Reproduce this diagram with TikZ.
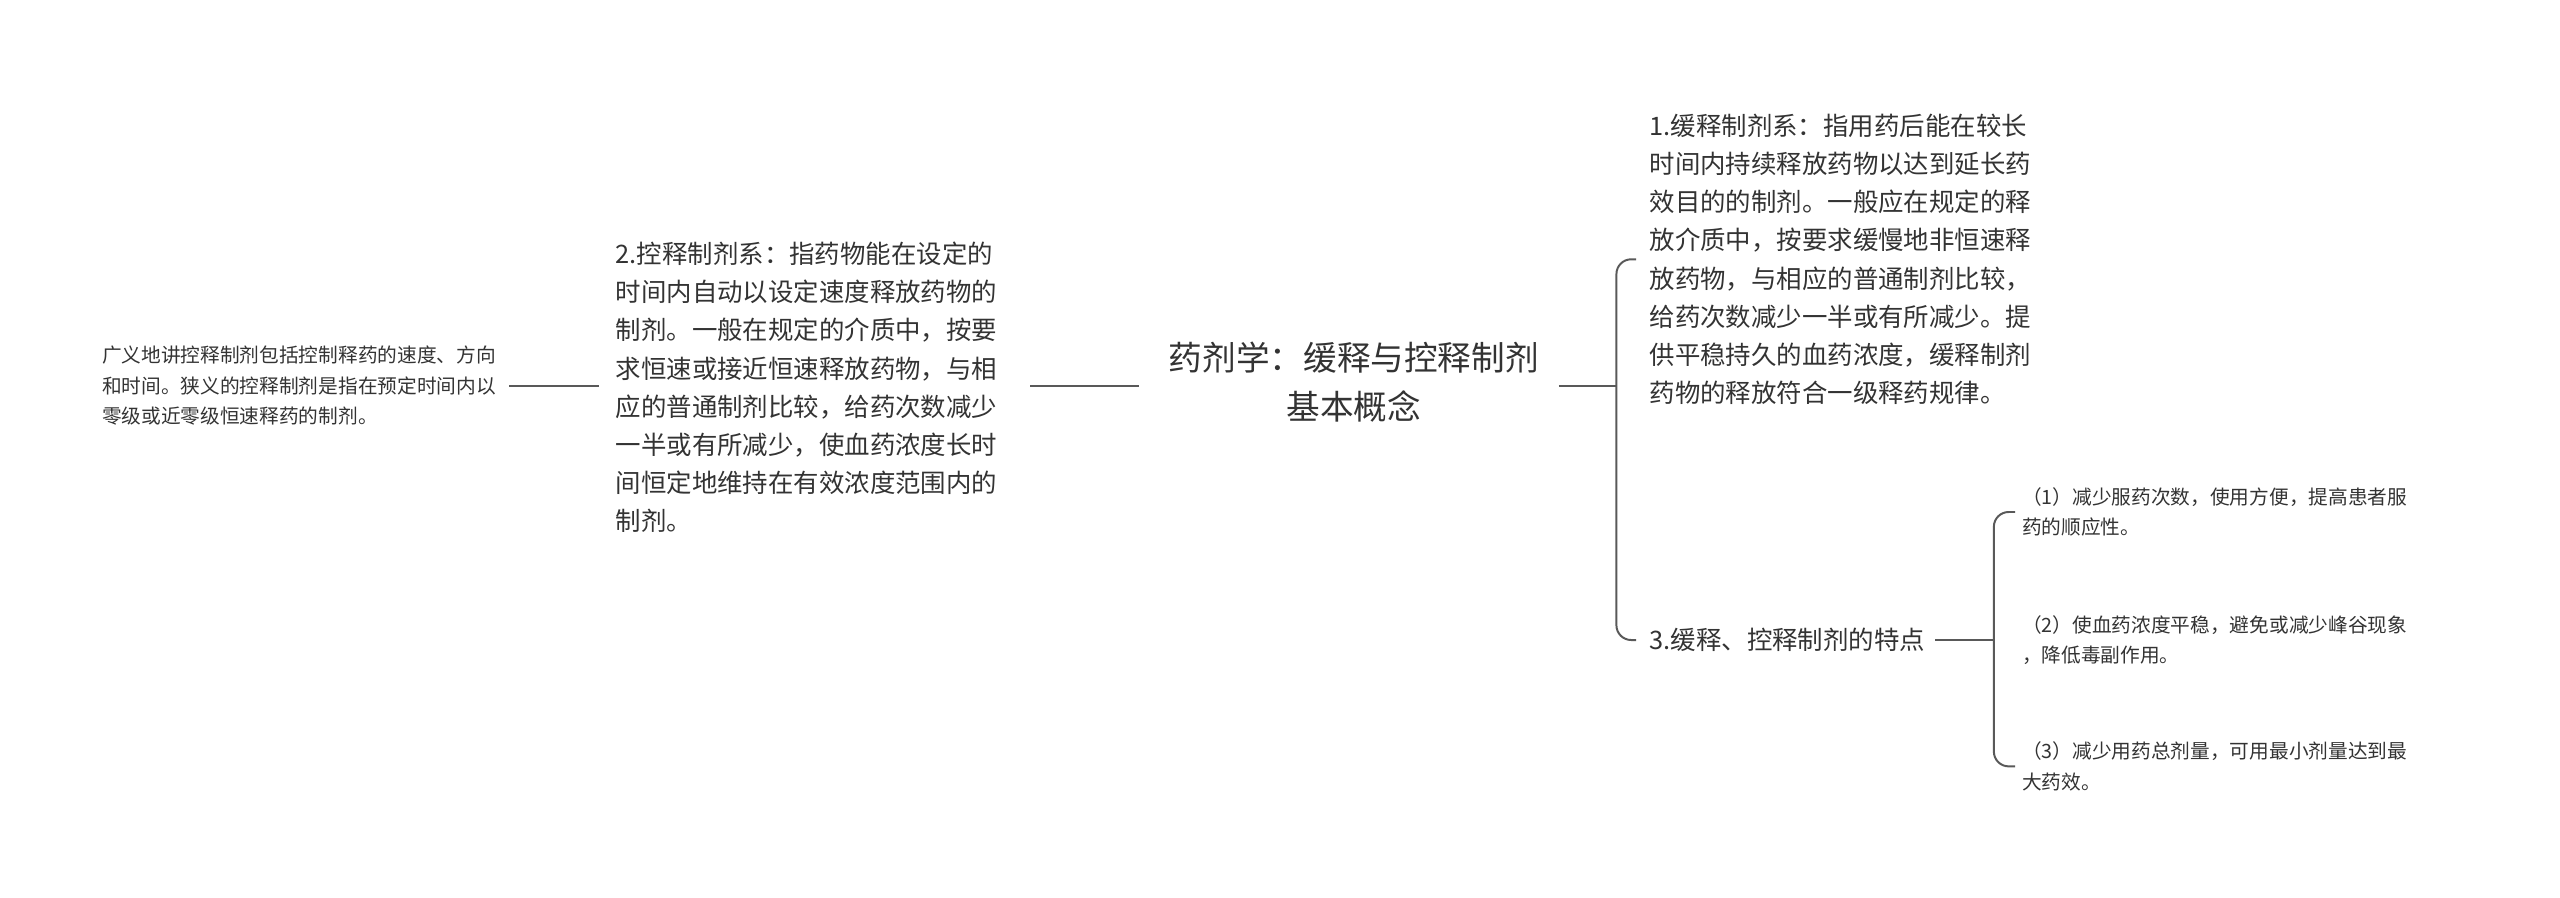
\documentclass[tikz,border=0pt]{standalone}
\usepackage{fontspec}
\setmainfont{Noto Sans CJK SC}
\begin{document}
\begin{tikzpicture}[x=1pt,y=-1pt,
  txt/.style={inner sep=0pt,align=left,text=black!80,anchor=west},
  big/.style={txt,font=\fontsize{15.5}{23.2}\selectfont},
  small/.style={txt,font=\fontsize{12}{18.6}\selectfont},
  ln/.style={draw=black!65,line width=1.2pt,rounded corners=9pt}]
\useasboundingbox (0,0) rectangle (1560,547);
\node[small] (l) at (62,235) {广义地讲控释制剂包括控制释药的速度、方向\\和时间。狭义的控释制剂是指在预定时间内以\\零级或近零级恒速释药的制剂。};
\node[big] (n2) at (375,236) {2.控释制剂系：指药物能在设定的\\时间内自动以设定速度释放药物的\\制剂。一般在规定的介质中，按要\\求恒速或接近恒速释放药物，与相\\应的普通制剂比较，给药次数减少\\一半或有所减少，使血药浓度长时\\间恒定地维持在有效浓度范围内的\\制剂。};
\node[inner sep=0pt,align=center,text=black!80,font=\fontsize{20.5}{30}\selectfont] (c) at (825,233) {药剂学：缓释与控释制剂\\基本概念};
\node[big] (n1) at (1005,158) {1.缓释制剂系：指用药后能在较长\\时间内持续释放药物以达到延长药\\效目的的制剂。一般应在规定的释\\放介质中，按要求缓慢地非恒速释\\放药物，与相应的普通制剂比较，\\给药次数减少一半或有所减少。提\\供平稳持久的血药浓度，缓释制剂\\药物的释放符合一级释药规律。};
\node[big] (n3) at (1005,390) {3.缓释、控释制剂的特点};
\node[small] (s1) at (1232,312) {（1）减少服药次数，使用方便，提高患者服\\药的顺应性。};
\node[small] (s2) at (1232,390) {（2）使血药浓度平稳，避免或减少峰谷现象\\，降低毒副作用。};
\node[small] (s3) at (1232,467) {（3）减少用药总剂量，可用最小剂量达到最\\大药效。};
\draw[ln] ([xshift=8pt]l.east |- 0,235) -- ([xshift=-10pt]n2.west |- 0,235);
\draw[ln] ([xshift=20pt]n2.east |- 0,235) -- ([xshift=-18pt]c.west |- 0,235);
\coordinate (b1) at (985,235);
\draw[ln] ([xshift=12pt]c.east |- 0,235) -- (b1);
\draw[ln] ([xshift=-8pt]n1.west) -| (b1) |- ([xshift=-8pt]n3.west);
\coordinate (b2) at (1215,390);
\draw[ln] ([xshift=6pt]n3.east) -- (b2);
\draw[ln] ([xshift=-4pt]s1.west) -| (b2) |- ([xshift=-4pt]s3.west);
\end{tikzpicture}
\end{document}
